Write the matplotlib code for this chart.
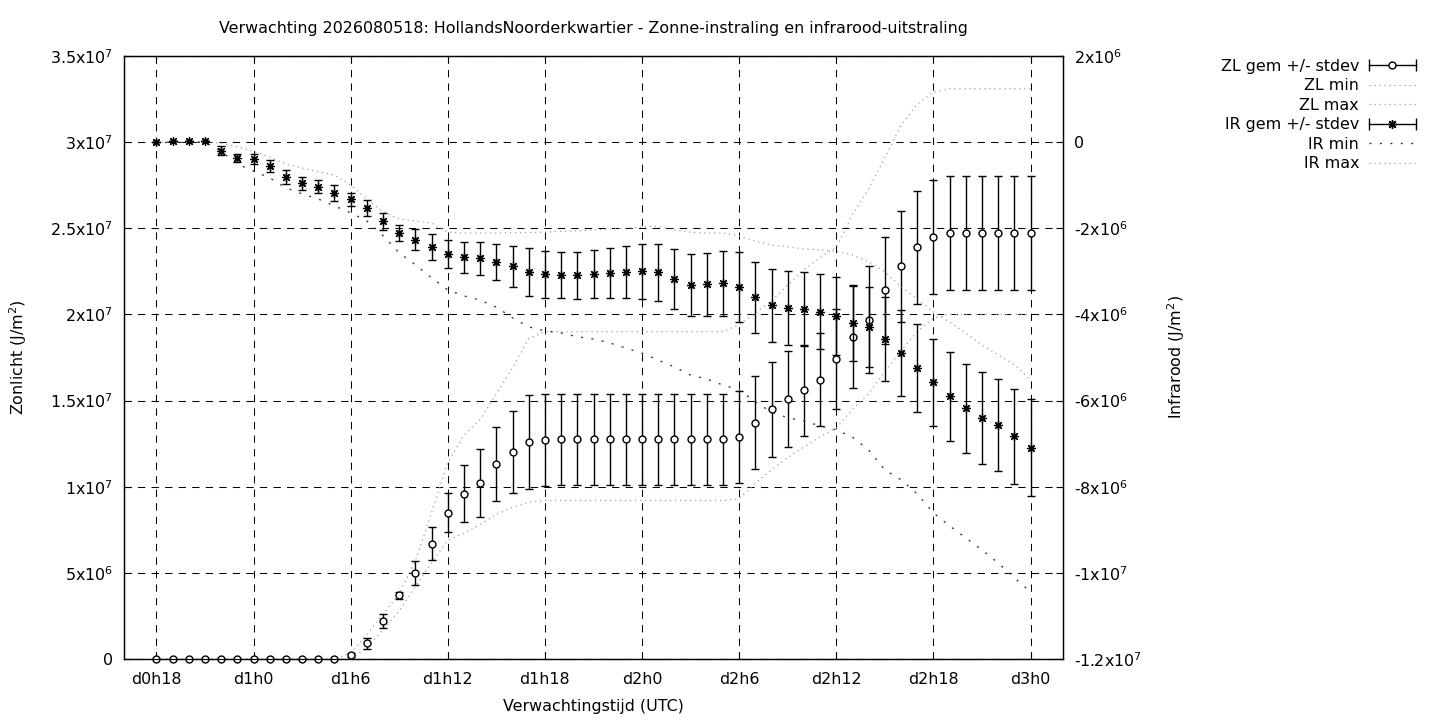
import numpy as np
import matplotlib
matplotlib.use('Agg')
import matplotlib.pyplot as plt
from matplotlib.lines import Line2D
from matplotlib.legend_handler import HandlerBase
from matplotlib.ticker import FuncFormatter, FixedLocator

# verwachtingsuren (uur sinds d0h0), elk uur een waarde
hours = list(range(18, 73))
tick_hours = [18, 24, 30, 36, 42, 48, 54, 60, 66, 72]

# zonlicht (J/m2), linker as
zl_gem = [0] * 12 + [2.3e5, 9e5, 2.2e6, 3.7e6, 5.0e6, 6.7e6, 8.5e6, 9.6e6, 1.02e7,
                     1.13e7, 1.20e7, 1.26e7, 1.27e7] + [1.275e7] * 11 + \
         [1.29e7, 1.37e7, 1.45e7, 1.51e7, 1.56e7, 1.62e7, 1.74e7, 1.87e7, 1.97e7,
          2.14e7, 2.28e7, 2.39e7, 2.45e7] + [2.475e7] * 6
zl_sd = [0] * 12 + [1e5, 3.4e5, 3.9e5, 2.1e5, 7e5, 9.7e5, 1.14e6, 1.66e6, 1.97e6,
                    2.15e6, 2.38e6, 2.72e6, 2.67e6] + [2.64e6] * 11 + \
        [2.67e6, 2.7e6, 2.76e6, 2.8e6, 2.65e6, 2.7e6, 2.9e6, 2.96e6, 3.1e6,
         3.11e6, 3.23e6, 3.29e6, 3.29e6] + [3.31e6] * 6
zl_min = [0] * 13 + [6.4e5, 1.7e6, 2.8e6, 4.2e6, 5.6e6, 6.9e6, 7.3e6, 7.8e6, 8.4e6,
                     8.8e6, 9.1e6, 9.2e6] + [9.2e6] * 11 + \
         [9.3e6, 1.02e7, 1.1e7, 1.17e7, 1.23e7, 1.29e7, 1.34e7, 1.45e7, 1.54e7,
          1.67e7, 1.79e7, 1.9e7, 1.98e7] + [2.0e7] * 6
zl_max = [0] * 12 + [3.5e5, 1.4e6, 2.6e6, 3.8e6, 5.7e6, 8.5e6, 1.14e7, 1.3e7, 1.39e7,
                     1.54e7, 1.69e7, 1.86e7, 1.9e7] + [1.9e7] * 11 + \
         [1.94e7, 2.01e7, 2.08e7, 2.17e7, 2.26e7, 2.33e7, 2.39e7, 2.58e7, 2.73e7,
          2.91e7, 3.1e7, 3.22e7, 3.29e7] + [3.31e7] * 6

# infrarood (J/m2), rechter as
ir_gem = [0, 1.5e4, 1.5e4, 1.5e4, -1.95e5, -3.7e5, -4.0e5, -5.6e5, -8.1e5, -9.6e5,
          -1.03e6, -1.18e6, -1.33e6, -1.52e6, -1.84e6, -2.11e6, -2.27e6, -2.44e6,
          -2.60e6, -2.67e6, -2.70e6, -2.79e6, -2.88e6, -3.02e6, -3.07e6, -3.09e6,
          -3.09e6, -3.07e6, -3.04e6, -3.02e6, -3.0e6, -3.02e6, -3.18e6, -3.32e6,
          -3.30e6, -3.28e6, -3.37e6, -3.60e6, -3.79e6, -3.86e6, -3.88e6, -3.94e6,
          -4.04e6, -4.20e6, -4.29e6, -4.58e6, -4.90e6, -5.25e6, -5.58e6, -5.90e6,
          -6.18e6, -6.41e6, -6.57e6, -6.83e6, -7.09e6]
ir_sd = [0, 0, 0, 0, 9.7e4, 8.9e4, 1.16e5, 1.43e5, 1.55e5, 1.5e5, 1.5e5, 1.86e5,
         1.5e5, 1.86e5, 1.97e5, 1.86e5, 2.44e5, 3.0e5, 3.2e5, 3.6e5, 3.8e5, 4.2e5,
         4.8e5, 5.6e5, 5.5e5, 5.3e5, 5.5e5, 5.6e5, 5.8e5, 6.0e5, 6.4e5, 6.6e5,
         7.0e5, 7.2e5, 7.3e5, 7.5e5, 8.1e5, 8.2e5, 8.5e5, 8.6e5, 8.6e5, 8.7e5,
         9.1e5, 8.9e5, 9.3e5, 9.75e5, 1.0e6, 1.02e6, 1.02e6, 1.03e6, 1.04e6,
         1.07e6, 1.07e6, 1.1e6, 1.13e6]
ir_min = [0, 0, 0, 0, -2.1e5, -5.1e5, -6.7e5, -8.3e5, -1.06e6, -1.2e6, -1.32e6,
          -1.48e6, -1.64e6, -1.83e6, -2.17e6, -2.57e6, -2.85e6, -3.15e6, -3.43e6,
          -3.57e6, -3.67e6, -3.83e6, -4.08e6, -4.29e6, -4.38e6, -4.43e6, -4.52e6,
          -4.57e6, -4.66e6, -4.78e6, -4.9e6, -5.06e6, -5.22e6, -5.41e6, -5.5e6,
          -5.64e6, -5.75e6, -6.03e6, -6.27e6, -6.4e6, -6.47e6, -6.59e6, -6.68e6,
          -6.85e6, -7.15e6, -7.61e6, -7.84e6, -8.17e6, -8.61e6, -8.91e6, -9.19e6,
          -9.47e6, -9.77e6, -1.012e7, -1.044e7]
ir_max = [0, 0, 0, 0, -2e4, -1.1e5, -2.1e5, -3.5e5, -5.1e5, -6e5, -6.9e5, -7.6e5,
          -1.0e6, -1.32e6, -1.62e6, -1.78e6, -1.83e6, -1.88e6, -2.09e6, -2.11e6,
          -2.11e6, -2.11e6, -2.1e6, -2.1e6, -2.09e6, -2.07e6, -2.06e6, -2.04e6,
          -2.02e6, -2.0e6, -1.97e6, -1.95e6, -2.04e6, -2.09e6, -2.11e6, -2.11e6,
          -2.18e6, -2.3e6, -2.39e6, -2.43e6, -2.48e6, -2.5e6, -2.53e6, -2.62e6,
          -2.78e6, -3.01e6, -3.36e6, -3.64e6, -3.94e6, -4.18e6, -4.43e6, -4.71e6,
          -4.94e6, -5.17e6, -5.52e6]

titel = 'Verwachting 2026080518: HollandsNoorderkwartier - Zonne-instraling en infrarood-uitstraling'

plt.rcParams['font.family'] = ['DejaVu Sans']
plt.rcParams['font.size'] = 11.4
plt.rcParams['mathtext.fontset'] = 'dejavusans'


def gnu_fmt(v, pos=None):
    if abs(v) < 1:
        return '0'
    exp = int(np.floor(np.log10(abs(v)) + 1e-9))
    mant = f'{v / 10 ** exp:.1f}'.rstrip('0').rstrip('.')
    return mant + 'x10$^{' + str(exp) + '}$'


def tijd_fmt(h, pos=None):
    h = int(round(h))
    return f'd{h // 24}h{h % 24}'


class GnuErrorbar(HandlerBase):
    # legenda-symbool zoals gnuplot: |--o--|
    def create_artists(self, legend, orig_handle, xdescent, ydescent,
                       width, height, fontsize, trans):
        y = height / 2 - ydescent
        x0, x1 = -xdescent, width - xdescent
        bar = Line2D([x0, x1], [y, y], color='black', lw=1)
        caps = Line2D([x0, x1], [y, y], ls='none', marker='|', ms=8,
                      mew=1, color='black')
        pt = Line2D([(x0 + x1) / 2], [y], ls='none',
                    marker=orig_handle.get_marker(),
                    ms=orig_handle.get_markersize(),
                    mfc=orig_handle.get_markerfacecolor(), mec='black', mew=1)
        for a in (bar, caps, pt):
            a.set_transform(trans)
        return [bar, caps, pt]


fig = plt.figure(figsize=(14.4, 7.2), dpi=100)
ax = fig.add_axes([124 / 1440, 1 - 659 / 720, 939 / 1440, 603 / 720])
ax2 = ax.twinx()

licht = '#a0a0a0'
fijn = (0, (1, 3))
grof = (0, (1.5, 6))
asterisk = (8, 2, 0)

zl_eb = ax.errorbar(hours, zl_gem, yerr=zl_sd, fmt='o', ms=5, mfc='white',
                    mec='black', mew=1, ecolor='black', elinewidth=1,
                    capsize=3.2, capthick=1, zorder=4)
ax.plot(hours, zl_min, color=licht, ls=fijn, lw=0.9, zorder=3)
ax.plot(hours, zl_max, color=licht, ls=fijn, lw=0.9, zorder=3)

ir_eb = ax2.errorbar(hours, ir_gem, yerr=ir_sd, fmt='none', ecolor='black',
                     elinewidth=1, capsize=3.2, capthick=1, zorder=4)
ax2.plot(hours, ir_gem, ls='none', marker=asterisk, ms=6.5, mec='black',
         mew=0.9, zorder=5)
ax2.plot(hours, ir_min, color='#404040', ls=grof, lw=1.0, zorder=3)
ax2.plot(hours, ir_max, color=licht, ls=fijn, lw=0.9, zorder=3)

for art in zl_eb.get_children():
    art.set_clip_on(False)

ax.set_xlim(16, 74)
ax.set_ylim(0, 3.5e7)
ax2.set_ylim(-1.2e7, 2e6)

ax.xaxis.set_major_locator(FixedLocator(tick_hours))
ax.xaxis.set_major_formatter(FuncFormatter(tijd_fmt))
ax.yaxis.set_major_locator(FixedLocator(np.arange(0, 3.51e7, 5e6)))
ax.yaxis.set_major_formatter(FuncFormatter(gnu_fmt))
ax2.yaxis.set_major_locator(FixedLocator(np.arange(-1.2e7, 2.01e6, 2e6)))
ax2.yaxis.set_major_formatter(FuncFormatter(gnu_fmt))

ax.grid(True, color='black', ls=(0, (7, 6)), lw=0.75)
ax.set_axisbelow(True)
ax.tick_params(axis='x', direction='in', length=5, top=True, pad=9)
ax.tick_params(axis='y', direction='in', length=5, pad=8)
ax2.tick_params(axis='y', direction='in', length=5, pad=8)
for a in (ax, ax2):
    for s in a.spines.values():
        s.set_linewidth(0.9)

ax.set_xlabel('Verwachtingstijd (UTC)', labelpad=9)
ax.set_ylabel('Zonlicht (J/m$^2$)', labelpad=15)
ax2.set_ylabel('Infrarood (J/m$^2$)', labelpad=17)
fig.text(593.5 / 1440, 1 - 29 / 720, titel, ha='center', va='center')

zl_proxy = Line2D([], [], marker='o', ms=5, mfc='white', mec='black')
ir_proxy = Line2D([], [], marker=asterisk, ms=6.5, mfc='black', mec='black')
handles = [zl_proxy,
           Line2D([], [], color=licht, ls=fijn, lw=0.9),
           Line2D([], [], color=licht, ls=fijn, lw=0.9),
           ir_proxy,
           Line2D([], [], color='#404040', ls=grof, lw=1.0),
           Line2D([], [], color=licht, ls=fijn, lw=0.9)]
labels = ['ZL gem +/- stdev', 'ZL min', 'ZL max',
          'IR gem +/- stdev', 'IR min', 'IR max']
fig.legend(handles, labels, loc='upper right',
           bbox_to_anchor=(1424 / 1440, 1 - 51 / 720), frameon=False,
           markerfirst=False, handlelength=3.0, handletextpad=0.6,
           labelspacing=0.28, borderpad=0,
           handler_map={zl_proxy: GnuErrorbar(), ir_proxy: GnuErrorbar()})

fig.savefig('out.png', dpi=100)
